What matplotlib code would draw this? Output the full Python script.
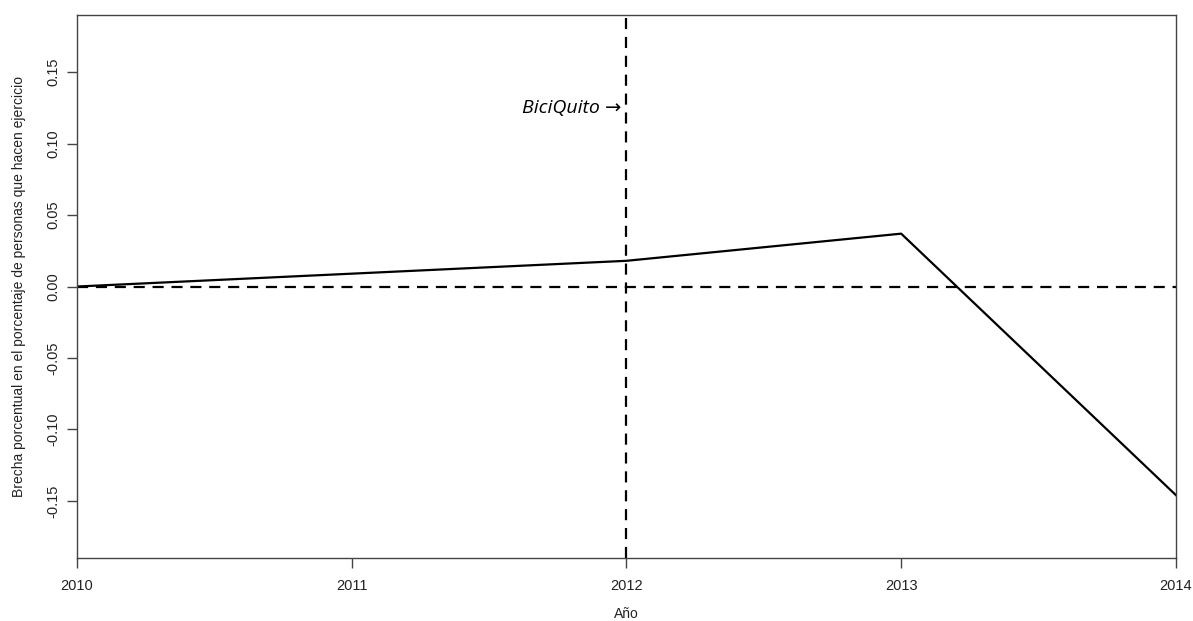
import matplotlib
matplotlib.use("Agg")
import matplotlib.pyplot as plt

# brecha porcentual por año
anios = [2010, 2011, 2012, 2013, 2014]
brecha = [0.0, 0.009, 0.018, 0.037, -0.146]
anio_intervencion = 2012
yticks = [-0.15, -0.10, -0.05, 0.00, 0.05, 0.10, 0.15]

plt.rcParams['font.family'] = ['Liberation Sans', 'DejaVu Sans']

fig = plt.figure(figsize=(11.93, 6.21), dpi=100)
ax = fig.add_axes([0.0645, 0.1014, 0.9212, 0.8744])

ax.plot(anios, brecha, color='black', lw=1.6)
ax.axhline(0, color='black', lw=1.6, dashes=(5, 3.5))
ax.axvline(anio_intervencion, color='black', lw=1.6, dashes=(5, 3.5))

ax.text(anio_intervencion - 0.02, 0.125, 'BiciQuito →', ha='right', va='center',
        fontsize=14, style='italic', family=['Open Sans', 'DejaVu Sans'])

ax.set_xlim(2010, 2014)
ax.set_ylim(-0.19, 0.19)
ax.set_xticks(anios)
ax.set_yticks(yticks)
ax.set_yticklabels([f'{v:.2f}' for v in yticks], rotation=90, va='center')

for s in ax.spines.values():
    s.set_color('#444444')
    s.set_linewidth(1.0)
ax.tick_params(direction='out', length=7, width=1.0, color='#444444',
               labelsize=10.5, labelcolor='#222222')
ax.tick_params(axis='x', pad=8)
ax.tick_params(axis='y', pad=5)

ax.set_xlabel('Año', fontsize=10, color='#222222', va='center')
ax.set_ylabel('Brecha porcentual en el porcentaje de personas que hacen ejercicio',
              fontsize=10, color='#222222', va='center')
ax.xaxis.set_label_coords(0.5, -0.103)
ax.yaxis.set_label_coords(-0.053, 0.5)

fig.savefig('out.png', dpi=100)
